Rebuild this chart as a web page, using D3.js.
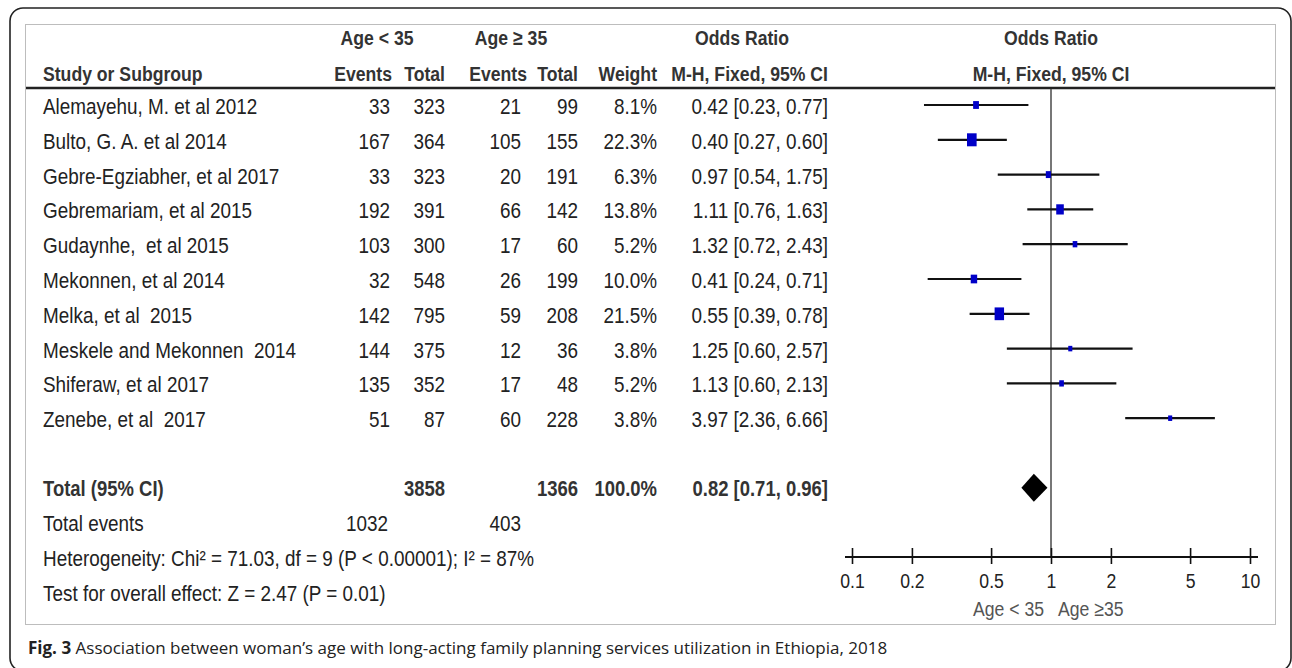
<!DOCTYPE html>
<html>
<head>
<meta charset="utf-8">
<script src="https://cdn.jsdelivr.net/npm/d3@7/dist/d3.min.js"></script>
<style>
  body { margin: 0; background: #fff; }
  svg { display: block; }
  .narrow { font-family: "Liberation Sans", Arial, sans-serif; }
</style>
</head>
<body>
<div id="chart"></div>
<script>
// study data
const studies = [
  "Alemayehu, M. et al 2012",
  "Bulto, G. A. et al 2014",
  "Gebre-Egziabher, et al 2017",
  "Gebremariam, et al 2015",
  "Gudaynhe,  et al 2015",
  "Mekonnen, et al 2014",
  "Melka, et al  2015",
  "Meskele and Mekonnen  2014",
  "Shiferaw, et al 2017",
  "Zenebe, et al  2017"
];
const eventsYoung = [33, 167, 33, 192, 103, 32, 142, 144, 135, 51];
const totalYoung = [323, 364, 323, 391, 300, 548, 795, 375, 352, 87];
const eventsOld = [21, 105, 20, 66, 17, 26, 59, 12, 17, 60];
const totalOld = [99, 155, 191, 142, 60, 199, 208, 36, 48, 228];
const weights = [8.1, 22.3, 6.3, 13.8, 5.2, 10.0, 21.5, 3.8, 5.2, 3.8];
const oddsRatio = [0.42, 0.40, 0.97, 1.11, 1.32, 0.41, 0.55, 1.25, 1.13, 3.97];
const ciLow = [0.23, 0.27, 0.54, 0.76, 0.72, 0.24, 0.39, 0.60, 0.60, 2.36];
const ciHigh = [0.77, 0.60, 1.75, 1.63, 2.43, 0.71, 0.78, 2.57, 2.13, 6.66];

const totalOR = [0.82, 0.71, 0.96]; // estimate, low, high
const sumTotalYoung = 3858;
const sumTotalOld = 1366;
const sumEventsYoung = 1032;
const sumEventsOld = 403;
const totalWeight = 100.0;

const axisTicks = [0.1, 0.2, 0.5, 1, 2, 5, 10];

const width = 1292;
const height = 668;
const SX = 0.84; // squeeze text to look like arial narrow

// column anchors (right edges unless noted)
const col = {
  study: 43,
  evY: 390,
  totY: 445,
  evO: 521,
  totO: 578,
  weight: 657,
  ci: 828
};

const f2 = d3.format(".2f");
const f1 = d3.format(".1f");
const ciText = (e, l, h) => f2(e) + " [" + f2(l) + ", " + f2(h) + "]";
const squeeze = (px, py) => "translate(" + [px, py] + ") scale(" + SX + ",1)";

function put(g, px, py, s, anchor) {
  return g.append("text")
    .attr("transform", squeeze(px, py))
    .attr("text-anchor", anchor || "start")
    .attr("xml:space", "preserve")
    .text(s);
}

const x = d3.scaleLog().domain([0.1, 10]).range([852, 1250]);
const y = d3.scaleLinear().domain([0, 1]).range([105, 139.8]); // row index -> centre
const boxH = d3.scaleSqrt().domain([0, d3.max(weights)]).range([0, 13]);

const svg = d3
  .select("#chart")
  .append("svg")
  .attr("width", width)
  .attr("height", height);

// outer frame and inner panel
svg.append("rect")
  .attr("x", 10).attr("y", 8)
  .attr("width", 1281).attr("height", 663)
  .attr("rx", 13)
  .attr("fill", "none")
  .attr("stroke", "#222")
  .attr("stroke-width", 1.6);

svg.append("rect")
  .attr("x", 25.5).attr("y", 24.5)
  .attr("width", 1250).attr("height", 600)
  .attr("fill", "#fff")
  .attr("stroke", "#bdbdbd")
  .attr("stroke-width", 1);

const txt = svg.append("g").attr("class", "narrow").attr("fill", "#222");

// header
const head = txt.append("g").attr("font-size", 21).attr("font-weight", "bold").attr("fill", "#333");
put(head, 377, 45, "Age < 35", "middle");
put(head, 511, 45, "Age \u2265 35", "middle");
put(head, 742, 45, "Odds Ratio", "middle");
put(head, x(1), 45, "Odds Ratio", "middle");

put(head, col.study, 81, "Study or Subgroup");
[["Events", 392], ["Total", col.totY], ["Events", 527], ["Total", col.totO], ["Weight", col.weight], ["M-H, Fixed, 95% CI", col.ci]]
  .forEach(([t, px]) => put(head, px, 81, t, "end"));
put(head, x(1), 81, "M-H, Fixed, 95% CI", "middle");

svg.append("line")
  .attr("x1", 26).attr("x2", 1275)
  .attr("y1", 88).attr("y2", 88)
  .attr("stroke", "#222")
  .attr("stroke-width", 2.5);

// study rows
const rows = txt.append("g").attr("font-size", 22.5);
const rowData = studies.map((s, i) => ({
  name: s,
  cells: [
    [eventsYoung[i], col.evY],
    [totalYoung[i], col.totY],
    [eventsOld[i], col.evO],
    [totalOld[i], col.totO],
    [f1(weights[i]) + "%", col.weight],
    [ciText(oddsRatio[i], ciLow[i], ciHigh[i]), col.ci]
  ]
}));

const row = rows.selectAll("g.row")
  .data(rowData)
  .enter()
  .append("g")
  .attr("class", "row")
  .attr("transform", (d, i) => "translate(0," + (y(i) + 9) + ")");

row.append("text")
  .attr("transform", squeeze(col.study, 0))
  .attr("xml:space", "preserve")
  .text(d => d.name);
row.selectAll("text.cell")
  .data(d => d.cells)
  .enter()
  .append("text")
  .attr("class", "cell")
  .attr("transform", d => squeeze(d[1], 0))
  .attr("text-anchor", "end")
  .text(d => d[0]);

// total row
const tot = txt.append("g").attr("font-size", 22).attr("font-weight", "bold").attr("fill", "#333");
const ty = y(11);
put(tot, col.study, ty + 8, "Total (95% CI)");
put(tot, col.totY, ty + 8, sumTotalYoung, "end");
put(tot, col.totO, ty + 8, sumTotalOld, "end");
put(tot, col.weight, ty + 8, f1(totalWeight) + "%", "end");
put(tot, col.ci, ty + 8, ciText(totalOR[0], totalOR[1], totalOR[2]), "end");

const foot = txt.append("g").attr("font-size", 22.5);
put(foot, col.study, y(12) + 8, "Total events");
put(foot, col.evY - 2, y(12) + 8, sumEventsYoung, "end");
put(foot, col.evO, y(12) + 8, sumEventsOld, "end");
put(foot, col.study, y(13) + 9, "Heterogeneity: Chi\u00b2 = 71.03, df = 9 (P < 0.00001); I\u00b2 = 87%");
put(foot, col.study, y(14) + 9, "Test for overall effect: Z = 2.47 (P = 0.01)");

// plot: null line
const plot = svg.append("g");
const axisY = 557;
plot.append("line")
  .attr("x1", x(1)).attr("x2", x(1))
  .attr("y1", 89).attr("y2", axisY)
  .attr("stroke", "#555")
  .attr("stroke-width", 1.6);

// confidence intervals
plot.selectAll("line.ci")
  .data(studies)
  .enter()
  .append("line")
  .attr("class", "ci")
  .attr("x1", (d, i) => x(ciLow[i]))
  .attr("x2", (d, i) => x(ciHigh[i]))
  .attr("y1", (d, i) => y(i))
  .attr("y2", (d, i) => y(i))
  .attr("stroke", "#111")
  .attr("stroke-width", 2.2);

// weighted boxes
const side = d => Math.max(5.5, boxH(d));
plot.selectAll("rect.box")
  .data(weights)
  .enter()
  .append("rect")
  .attr("class", "box")
  .attr("x", (d, i) => x(oddsRatio[i]) - side(d) * 0.37)
  .attr("y", (d, i) => y(i) - side(d) / 2)
  .attr("width", d => side(d) * 0.74)
  .attr("height", d => side(d))
  .attr("fill", "#0000c8");

// pooled diamond
plot.append("path")
  .attr("d", d3.line()([
    [x(totalOR[1]), ty],
    [x(totalOR[0]), ty - 14],
    [x(totalOR[2]), ty],
    [x(totalOR[0]), ty + 14]
  ]) + "Z")
  .attr("fill", "#000");

// axis
const xAxis = d3.axisBottom(x)
  .tickValues(axisTicks)
  .tickFormat(d => d)
  .tickSize(6);

const ax = plot.append("g")
  .attr("transform", "translate(0," + axisY + ")")
  .call(xAxis);
ax.select(".domain").remove();
ax.append("line")
  .attr("x1", x.range()[0] - 7).attr("x2", x.range()[1] + 8)
  .attr("stroke", "#111").attr("stroke-width", 2);
ax.selectAll(".tick line").attr("y1", -9).attr("y2", 7).attr("stroke", "#111").attr("stroke-width", 1.6);
ax.selectAll(".tick text")
  .attr("y", null)
  .attr("dy", null)
  .attr("transform", "translate(0,31) scale(" + SX + ",1)")
  .attr("font-size", 21)
  .attr("font-family", "'Liberation Sans', Arial, sans-serif")
  .attr("fill", "#222");

const favour = plot.append("g").attr("class", "narrow").attr("font-size", 21).attr("fill", "#555");
put(favour, x(1) - 7, 616, "Age < 35", "end");
put(favour, x(1) + 7, 616, "Age \u226535");

// caption
const cap = svg.append("text")
  .attr("x", 28).attr("y", 654)
  .attr("font-family", "'Open Sans', 'Noto Sans', sans-serif")
  .attr("font-size", 17)
  .attr("fill", "#222");
cap.append("tspan").attr("font-weight", "bold").text("Fig. 3");
cap.append("tspan").text(" Association between woman\u2019s age with long-acting family planning services utilization in Ethiopia, 2018");
</script>
</body>
</html>
